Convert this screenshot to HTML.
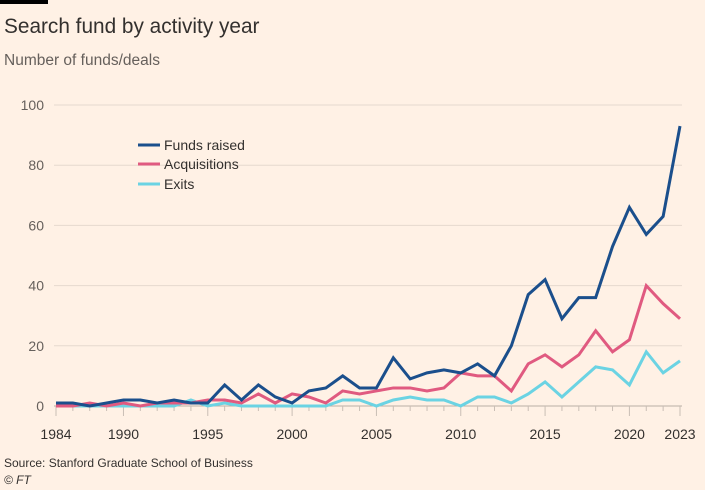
<!DOCTYPE html>
<html><head><meta charset="utf-8"><style>
body{margin:0;background:#fff1e5;font-family:"Liberation Sans",sans-serif;}
#wrap{position:relative;width:705px;height:490px;overflow:hidden;background:#fff1e5}
</style></head><body>
<div id="wrap">
<svg id="chart" width="705" height="490">
<rect x="0" y="0" width="48" height="4" fill="#000"/>
<text x="4" y="33" font-size="20.8" fill="#33302e">Search fund by activity year</text>
<text x="4" y="65" font-size="15.5" fill="#66605c">Number of funds/deals</text>
<g id="grid"></g><g id="series"></g>
<g>
<line x1="138" y1="145" x2="160" y2="145" stroke="#1b4f8c" stroke-width="3"/>
<text x="164" y="150" font-size="14" fill="#33302e">Funds raised</text>
<line x1="138" y1="164" x2="160" y2="164" stroke="#e05a80" stroke-width="3"/>
<text x="164" y="169" font-size="14" fill="#33302e">Acquisitions</text>
<line x1="138" y1="184" x2="160" y2="184" stroke="#6bd3e3" stroke-width="3"/>
<text x="164" y="189" font-size="14" fill="#33302e">Exits</text>
</g>
<text x="4" y="467" font-size="12" fill="#33302e">Source: Stanford Graduate School of Business</text>
<text x="4" y="484" font-size="12" fill="#33302e" font-style="italic">© FT</text>
</svg></div>
<script>
const years=[];for(let y=1986;y<=2023;y++)years.push(y);
const funds=[1,1,0,1,2,2,1,2,1,1,7,2,7,3,1,5,6,10,6,6,16,9,11,12,11,14,10,20,37,42,29,36,36,53,66,57,63,93];
const acquisitions=[0,0,1,0,1,0,1,1,1,2,2,1,4,1,4,3,1,5,4,5,6,6,5,6,11,10,10,5,14,17,13,17,25,18,22,40,34,29];
const exits=[0,0,0,0,0,0,0,0,2,0,1,0,0,0,0,0,0,2,2,0,2,3,2,2,0,3,3,1,4,8,3,8,13,12,7,18,11,15];
const yTicks=[0,20,40,60,80,100];
const xTickYears=[1986,1990,1995,2000,2005,2010,2015,2020,2023];
const xTickLabels=["1984","1990","1995","2000","2005","2010","2015","2020","2023"];
const NS="http://www.w3.org/2000/svg";
const X0=56,X1=680,Y0=406,Y1=105;
const xs=y=>X0+(y-1986)*(X1-X0)/(2023-1986);
const ys=v=>Y0-v*(Y0-Y1)/100;
function mk(t,a,p){const e=document.createElementNS(NS,t);for(const k in a)e.setAttribute(k,a[k]);p.appendChild(e);return e;}
const grid=document.getElementById('grid');
yTicks.forEach(v=>{
 const l=mk('line',{x1:X0-2,x2:X1+2,y1:ys(v),y2:ys(v),stroke:v===0?'#b8aea5':'#e6d9ce','stroke-width':1},grid);
 
 
 const t=mk('text',{x:44,y:ys(v)+5,'text-anchor':'end','font-size':14,fill:'#66605c'},grid);t.textContent=v;
 
 
});
years.forEach(y=>{const major=xTickYears.includes(y);
 const l=mk('line',{x1:xs(y),x2:xs(y),y1:Y0,y2:Y0+(major?10:5),stroke:'#c9beb5','stroke-width':1},grid);
 
 });
xTickYears.forEach((y,i)=>{
 const t=mk('text',{x:xs(y),y:439,'text-anchor':'middle','font-size':14,fill:'#33302e'},grid);t.textContent=xTickLabels[i];
 
 });
const ser=document.getElementById('series');
[[exits,'#6bd3e3','exits-line'],[acquisitions,'#e05a80','acquisitions-line'],[funds,'#1b4f8c','funds-raised-line']].forEach(([d,c,n])=>{
 const p=mk('polyline',{points:d.map((v,i)=>xs(years[i])+','+ys(v)).join(' '),fill:'none',stroke:c,'stroke-width':3,'stroke-linejoin':'miter'},ser);
 
 
});
</script></body></html>
